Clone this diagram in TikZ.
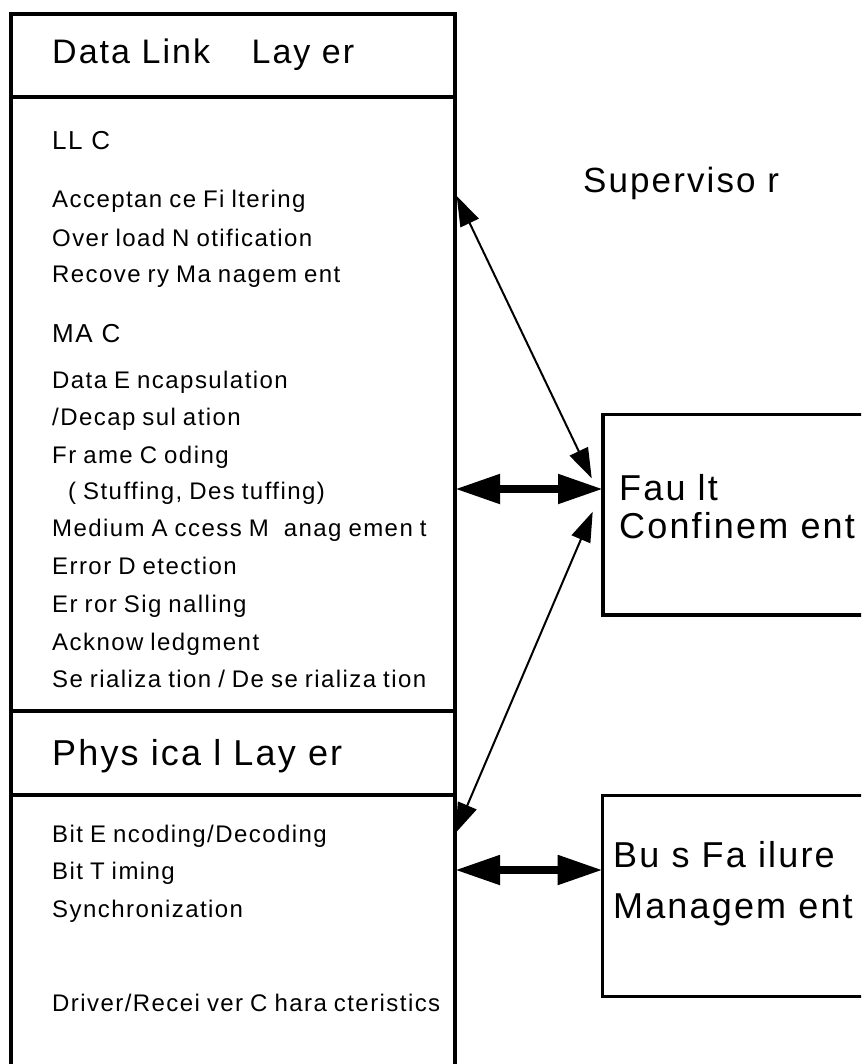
\documentclass[tikz,border=0pt]{standalone}
\usepackage{fontspec}
\setmainfont{Liberation Sans}[LetterSpace=6]
\usetikzlibrary{arrows.meta}
\newcommand{\myitemfont}{\fontsize{24}{24}\selectfont\spaceskip 7pt plus 1pt\relax}
\begin{document}
\begin{tikzpicture}[x=1pt,y=-1pt,
  part/.style={draw, line width=4pt, rectangle, inner sep=0pt, outer sep=0pt, minimum width=444pt, anchor=north west},
  rbox/.style={draw, line width=3.5pt, rectangle, inner sep=0pt, outer sep=0pt, minimum width=300pt, anchor=north west},
  item/.style={anchor=base west, inner sep=0pt, font=\myitemfont},
  sub/.style={anchor=base west, inner sep=0pt, font=\fontsize{26}{26}\selectfont},
  big/.style={anchor=base west, inner sep=0pt, font=\fontsize{36}{36}\selectfont},
  thinarrow/.style={line width=2pt, {Triangle[length=30pt,width=20pt]}-{Triangle[length=30pt,width=20pt]}},
  thickarrow/.style={line width=8pt, {Triangle[length=45pt,width=28pt]}-{Triangle[length=45pt,width=28pt]}}
]
\clip (0,0) rectangle (861,1064);
\fill[white] (0,0) rectangle (861,1064);
% layer stack
\node[part, minimum height=82.5pt] (dllhead) at (11,14.5) {};
\node[part, minimum height=614pt] (dllbody) at (11,97) {};
\node[part, minimum height=84pt] (phyhead) at (11,711) {};
\node[part, minimum height=300pt] (phybody) at (11,795) {};
% right boxes
\node[rbox, minimum height=200.3pt] (fc) at (603,414.7) {};
\node[rbox, minimum height=201pt] (bf) at (602.7,795.7) {};
% texts
\node[anchor=base west, inner sep=0pt, font=\fontsize{34}{34}\selectfont] (tdll) at (52,64) {Data Link \hspace{30pt}Lay er};
\node[sub] (tllc) at (52,150) {LL C};
\node[item] (t1) at (52,208) {Acceptan ce Fi ltering};
\node[item] (t2) at (52,247) {Over load N otification};
\node[item] (t3) at (52,283) {Recove ry Ma nagem ent};
\node[sub] (tmac) at (52,342) {MA C};
\node[item] (t4) at (52,388) {Data E ncapsulation};
\node[item] (t5) at (52,425) {/Decap sul ation};
\node[item] (t6) at (52,463) {Fr ame C oding};
\node[item] (t7) at (68,499) {( Stuffing, Des tuffing)};
\node[item] (t8) at (52,536) {Medium A ccess M \hspace{8pt}anag emen t};
\node[item] (t9) at (52,574) {Error D etection};
\node[item] (t10) at (52,612) {Er ror Sig nalling};
\node[item] (t11) at (52,650) {Acknow ledgment};
\node[item] (t12) at (52,687) {Se rializa tion / De se rializa tion};
\node[anchor=base west, inner sep=0pt, font=\fontsize{36}{36}\selectfont] (tphy) at (52,765) {Phys ica l Lay er};
\node[item] (t13) at (52,842) {Bit E ncoding/Decoding};
\node[item] (t14) at (52,879) {Bit T iming};
\node[item] (t15) at (52,917) {Synchronization};
\node[item] (t16) at (52,1011) {Driver/Recei ver C hara cteristics};
\node[anchor=base west, inner sep=0pt, font=\fontsize{35}{35}\selectfont] (tsup) at (583,193) {Superviso r};
\node[big] (tfc1) at (619,500) {Fau lt};
\node[big] (tfc2) at (619,538) {Confinem ent};
\node[big] (tbf1) at (613,867) {Bu s Fa ilure};
\node[big] (tbf2) at (613,918) {Managem ent};
% connectors
\coordinate (ya) at (0,489);
\coordinate (yb) at (0,870);
\draw[thickarrow] (dllbody.east |- ya) -- (fc.west |- ya);
\draw[thickarrow] (phybody.east |- yb) -- (bf.west |- yb);
\coordinate (s1) at (456.7,196);
\coordinate (s2) at (591.7,478.3);
\coordinate (p1) at (592.7,511.7);
\coordinate (p2) at (455.5,833);
\draw[thinarrow] (s1) -- (s2);
\draw[thinarrow] (p1) -- (p2);
\end{tikzpicture}
\end{document}
